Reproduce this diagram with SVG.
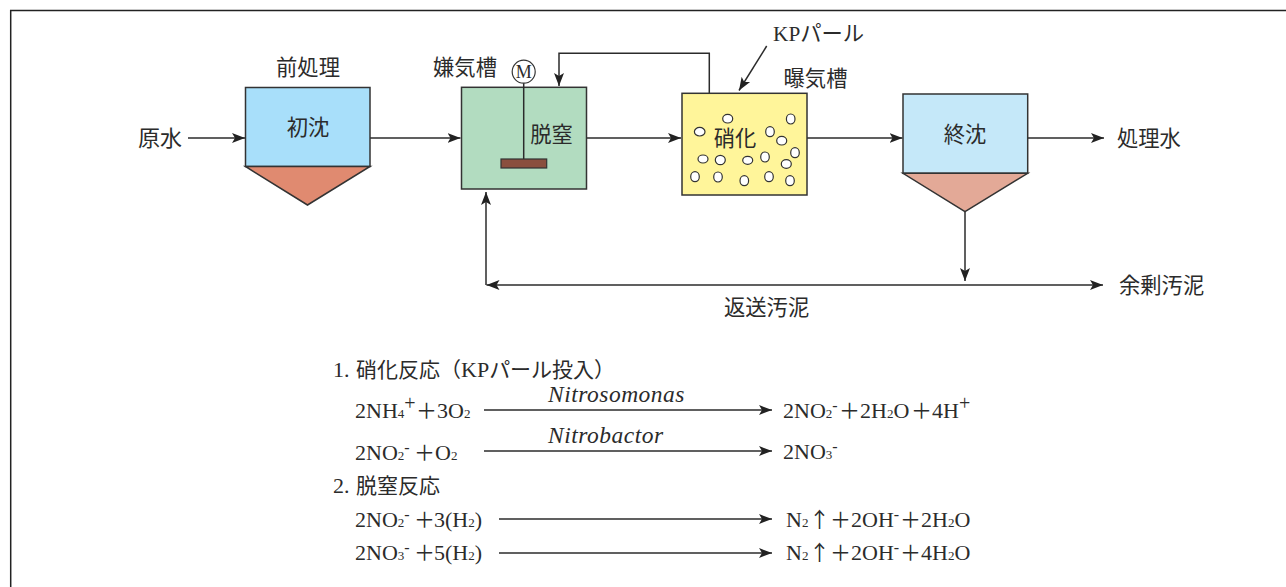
<svg xmlns="http://www.w3.org/2000/svg" width="1286" height="587" viewBox="0 0 1286 587">
<style>
text{font-family:"Liberation Serif","Noto Sans CJK JP",serif;fill:#2b2b2b;font-size:21.3px}
.eq{font-size:22px}
.s{font-size:13px}
.d{font-size:16px}
.u{font-size:20px}
.i{font-style:italic;font-size:23.5px;letter-spacing:.5px}
.box{stroke:#333;stroke-width:1.5}
.ln{fill:none;stroke:#2b2b2b;stroke-width:1.5}
.b{fill:#fff;stroke:#333;stroke-width:1.2}
.cjk{font-family:"Noto Sans CJK JP",sans-serif;font-size:21px}
</style>
<defs>
<marker id="a" markerUnits="userSpaceOnUse" markerWidth="14" markerHeight="12" refX="13" refY="6" orient="auto-start-reverse"><path d="M0 1L13 6L0 11L3 6Z" fill="#222"/></marker>
</defs>
<path d="M10.700 587V10.500H1286" fill="none" stroke="#222" stroke-width="1.5"/>
<g id="connectors">
<path class="ln" d="M188 138H245" marker-end="url(#a)"/>
<path class="ln" d="M370 138H460.500" marker-end="url(#a)"/>
<path class="ln" d="M587 138H681" marker-end="url(#a)"/>
<path class="ln" d="M807 138H902.500" marker-end="url(#a)"/>
<path class="ln" d="M1028 138H1104" marker-end="url(#a)"/>
<path class="ln" d="M709.300 93V53.300H559V86" marker-end="url(#a)"/>
<path class="ln" d="M766.700 46L739 90.500" marker-end="url(#a)"/>
<path class="ln" d="M965 212V281" marker-end="url(#a)"/>
<path class="ln" d="M486.500 285H1103" marker-start="url(#a)" marker-end="url(#a)"/>
<path class="ln" d="M486 285V192" marker-end="url(#a)"/>
</g>
<g id="n-primary">
<rect class="box" x="245.500" y="87.500" width="124.500" height="79" fill="#a8dffa"/>
<path class="box" d="M245.500 166.500H370L307.500 205Z" fill="#e08a70"/>
<text x="308" y="135" text-anchor="middle">初沈</text>
<text x="308" y="75" text-anchor="middle">前処理</text>
</g>
<g id="n-anoxic">
<rect class="box" x="461.500" y="87.300" width="125" height="101.700" fill="#b2dcc0"/>
<path class="ln" d="M523.700 83V159"/>
<circle cx="523.700" cy="71.700" r="11.500" fill="#fff" stroke="#333" stroke-width="1.200"/>
<text x="523.700" y="78" text-anchor="middle" style="font-size:18px">M</text>
<rect x="501" y="159" width="45.700" height="9" fill="#8a4f3e" stroke="#333" stroke-width="1.200"/>
<text x="551.500" y="141.500" text-anchor="middle">脱窒</text>
<text x="465" y="75" text-anchor="middle">嫌気槽</text>
</g>
<g id="n-aerobic">
<rect class="box" x="682" y="93.300" width="125" height="101.700" fill="#fff59a"/>
<g>
<ellipse class="b" cx="727.700" cy="118.700" rx="5" ry="4.300"/>
<ellipse class="b" cx="790.700" cy="119" rx="4.300" ry="5"/>
<ellipse class="b" cx="699.700" cy="131.700" rx="5.300" ry="4.300"/>
<ellipse class="b" cx="770" cy="131.700" rx="4.300" ry="5"/>
<ellipse class="b" cx="781.700" cy="140.700" rx="5" ry="4.300"/>
<ellipse class="b" cx="795" cy="152.700" rx="4.300" ry="5"/>
<ellipse class="b" cx="703" cy="159" rx="5" ry="4"/>
<ellipse class="b" cx="720.300" cy="160" rx="5" ry="4.700"/>
<ellipse class="b" cx="747.700" cy="160.300" rx="5" ry="4"/>
<ellipse class="b" cx="765" cy="157" rx="4.300" ry="5"/>
<ellipse class="b" cx="786.300" cy="164" rx="5" ry="4.300"/>
<ellipse class="b" cx="695" cy="176.700" rx="4.300" ry="5"/>
<ellipse class="b" cx="718" cy="177" rx="4.300" ry="5"/>
<ellipse class="b" cx="744.300" cy="180.700" rx="4.300" ry="5"/>
<ellipse class="b" cx="769" cy="176.700" rx="4.300" ry="5"/>
<ellipse class="b" cx="790" cy="180.700" rx="4.300" ry="5"/>
</g>
<text x="735" y="146" text-anchor="middle">硝化</text>
<text x="815.500" y="86" text-anchor="middle">曝気槽</text>
<text x="773" y="41">KPパール</text>
</g>
<g id="n-final">
<rect class="box" x="903" y="94" width="124.700" height="79.300" fill="#c5e8f9"/>
<path class="box" d="M903 173.300H1027.700L965 211.700Z" fill="#e3a997"/>
<text x="965" y="142" text-anchor="middle">終沈</text>
</g>
<g id="labels">
<text x="138" y="146" style="font-size:22px">原水</text>
<text x="1117" y="146">処理水</text>
<text x="1119" y="292.500">余剰汚泥</text>
<text x="724" y="315">返送汚泥</text>
</g>
<g id="reactions">
<text class="eq" x="333" y="377">1.<tspan x="356" class="cjk">硝化反応（</tspan><tspan x="461">KP</tspan><tspan class="cjk">パール投入）</tspan></text>
<text class="eq" x="355" y="418">2NH<tspan class="s">4</tspan><tspan class="u" dy="-8">+</tspan><tspan class="cjk" x="416" dy="8">＋</tspan><tspan x="437">3O</tspan><tspan class="s">2</tspan></text>
<text class="eq" x="355" y="460">2NO<tspan class="s">2</tspan><tspan class="d" dy="-7">-</tspan><tspan class="cjk" x="414" dy="7">＋</tspan><tspan x="435">O</tspan><tspan class="s">2</tspan></text>
<text class="eq" x="333" y="493">2.<tspan x="356" class="cjk">脱窒反応</tspan></text>
<text class="eq" x="355" y="527">2NO<tspan class="s">2</tspan><tspan class="d" dy="-7">-</tspan><tspan class="cjk" x="414" dy="7">＋</tspan><tspan x="434">3</tspan><tspan x="445">(H</tspan><tspan class="s">2</tspan>)</text>
<text class="eq" x="355" y="560">2NO<tspan class="s">3</tspan><tspan class="d" dy="-7">-</tspan><tspan class="cjk" x="414" dy="7">＋</tspan><tspan x="434">5</tspan><tspan x="445">(H</tspan><tspan class="s">2</tspan>)</text>
<text class="i" x="548" y="402">Nitrosomonas</text>
<text class="i" x="548" y="443">Nitrobactor</text>
<text class="eq" x="783" y="418">2NO<tspan class="s">2</tspan><tspan class="d" dy="-7">-</tspan><tspan class="cjk" x="839" dy="7">＋</tspan><tspan x="860">2H</tspan><tspan class="s">2</tspan>O<tspan class="cjk" x="911">＋</tspan><tspan x="932">4H</tspan><tspan class="u" dy="-8">+</tspan></text>
<text class="eq" x="783" y="459">2NO<tspan class="s">3</tspan><tspan class="d" dy="-7">-</tspan></text>
<text class="eq" x="786" y="527">N<tspan class="s">2</tspan><tspan class="cjk" x="809">↑</tspan><tspan class="cjk" x="830">＋</tspan><tspan x="851">2OH</tspan><tspan class="d" dy="-7">-</tspan><tspan class="cjk" x="900" dy="7">＋</tspan><tspan x="921">2H</tspan><tspan class="s">2</tspan>O</text>
<text class="eq" x="786" y="560">N<tspan class="s">2</tspan><tspan class="cjk" x="809">↑</tspan><tspan class="cjk" x="830">＋</tspan><tspan x="851">2OH</tspan><tspan class="d" dy="-7">-</tspan><tspan class="cjk" x="900" dy="7">＋</tspan><tspan x="921">4H</tspan><tspan class="s">2</tspan>O</text>
<path class="ln" d="M484 410H772" marker-end="url(#a)"/>
<path class="ln" d="M484 451H772" marker-end="url(#a)"/>
<path class="ln" d="M499 519H772" marker-end="url(#a)"/>
<path class="ln" d="M499 553H772" marker-end="url(#a)"/>
</g>
</svg>
